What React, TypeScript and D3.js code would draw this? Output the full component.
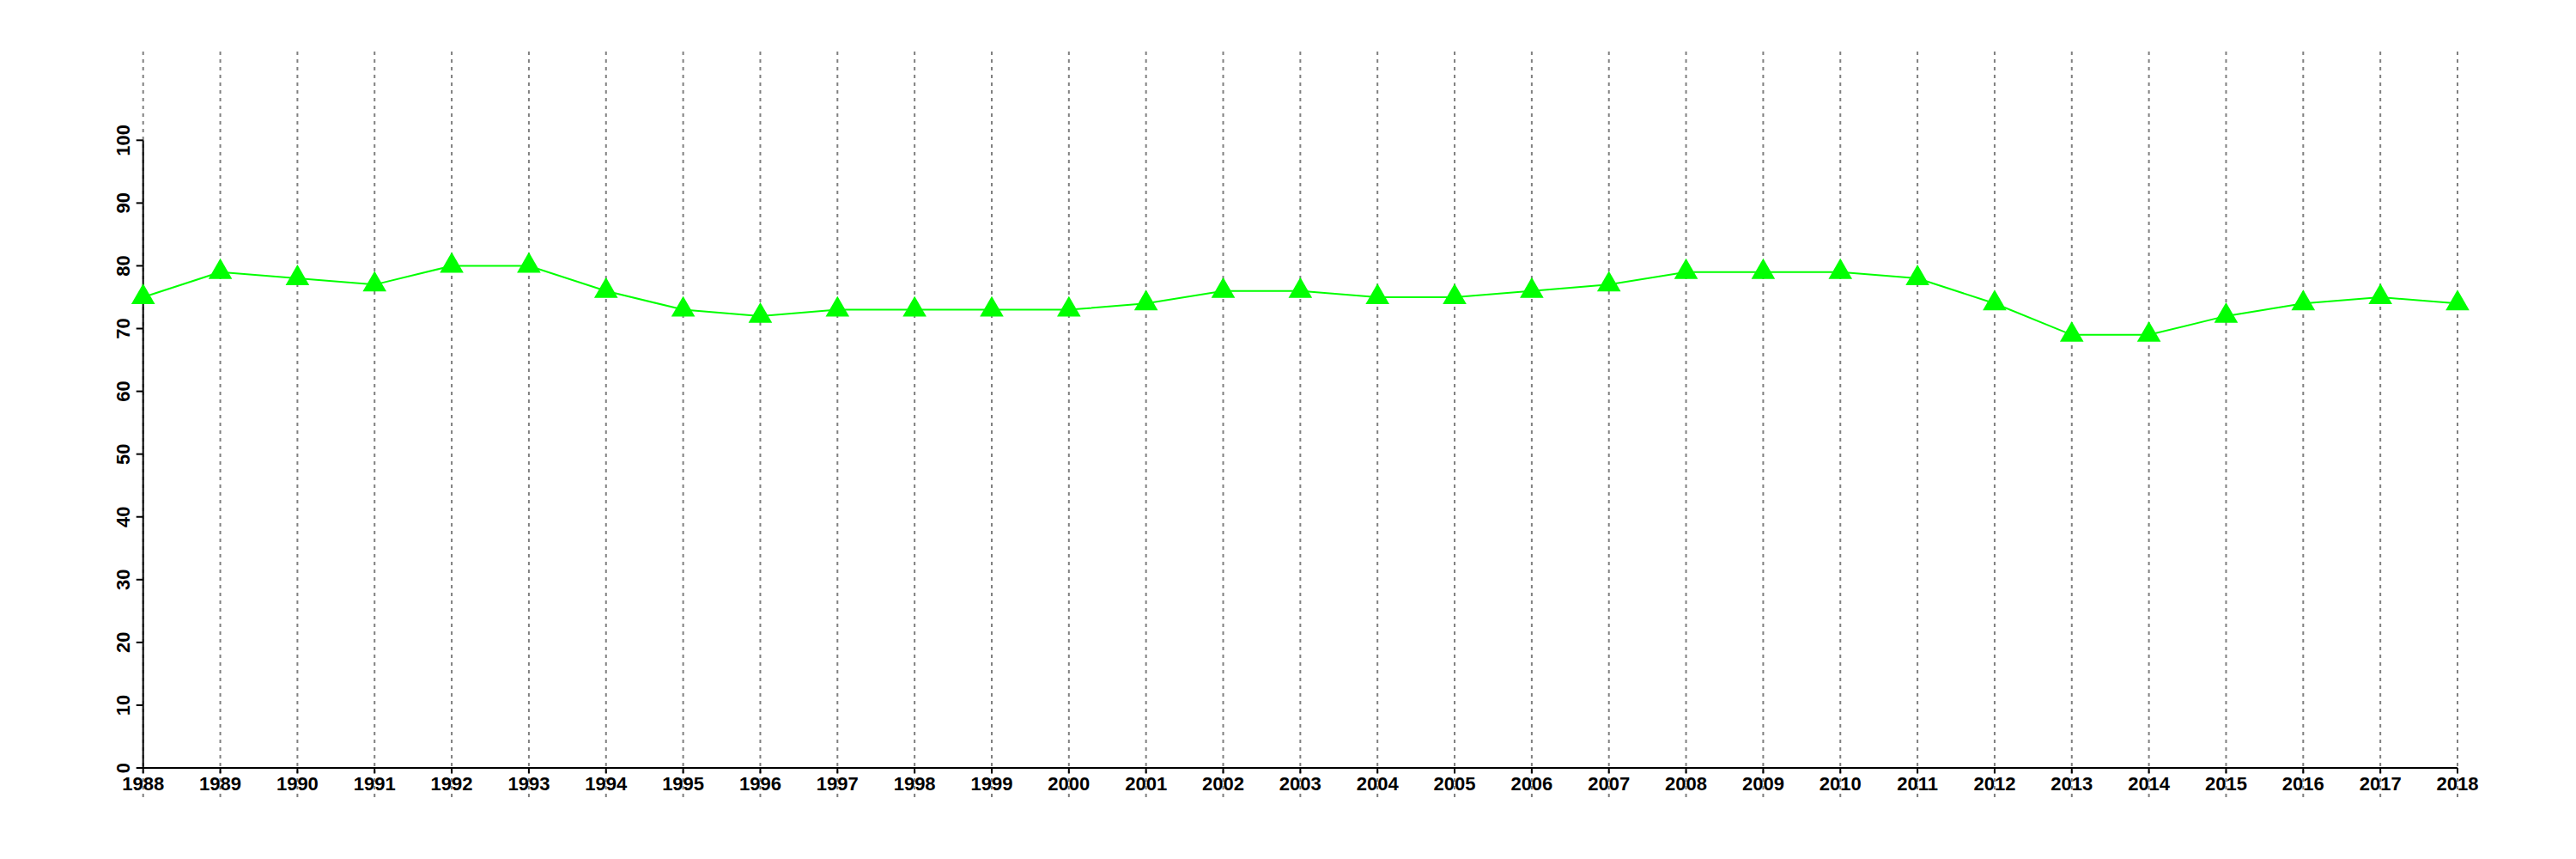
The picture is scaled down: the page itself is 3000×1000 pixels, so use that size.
import React from "react";
import * as d3 from "d3";

const years: number[] = [
  1988, 1989, 1990, 1991, 1992, 1993, 1994, 1995, 1996, 1997, 1998, 1999, 2000, 2001, 2002,
  2003, 2004, 2005, 2006, 2007, 2008, 2009, 2010, 2011, 2012, 2013, 2014, 2015, 2016, 2017, 2018,
];
const values: number[] = [
  75, 79, 78, 77, 80, 80, 76, 73, 72, 73, 73, 73, 73, 74, 76,
  76, 75, 75, 76, 77, 79, 79, 79, 78, 74, 69, 69, 72, 74, 75, 74,
];
const yTicks: number[] = [0, 10, 20, 30, 40, 50, 60, 70, 80, 90, 100];

const W = 3000;
const H = 1000;
const FONT = "'Liberation Sans', Arial, Helvetica, sans-serif";

export default function App() {
  const x = d3.scaleLinear().domain([1988, 2018]).range([166.7, 2862]);
  const y = d3.scaleLinear().domain([0, 100]).range([894, 163.3]);
  const line = d3
    .line<number>()
    .x((_, i) => x(years[i]))
    .y((d) => y(d));
  const tri = d3.symbol().type(d3.symbolTriangle).size(330)() as string;

  return (
    <svg
      width={W}
      height={H}
      style={{ position: "absolute", left: 0, top: 0, background: "#fff" }}
    >
      {/* vertical grid lines */}
      {years.map((yr) => (
        <line
          key={"g" + yr}
          x1={x(yr)}
          x2={x(yr)}
          y1={60}
          y2={928}
          stroke="#808080"
          strokeWidth={2}
          strokeDasharray="4,5"
        />
      ))}
      {/* y axis */}
      <line x1={x(1988)} x2={x(1988)} y1={y(100)} y2={y(0)} stroke="#000" strokeWidth={2} />
      {yTicks.map((t) => (
        <g key={"y" + t}>
          <line x1={x(1988) - 8} x2={x(1988)} y1={y(t)} y2={y(t)} stroke="#000" strokeWidth={2} />
          <text
            transform={`translate(151,${y(t)}) rotate(-90)`}
            textAnchor="middle"
            fontFamily={FONT}
            fontWeight="bold"
            fontSize={22}
            fill="#000"
          >
            {t}
          </text>
        </g>
      ))}
      {/* x axis */}
      <line x1={x(1988)} x2={x(2018)} y1={y(0)} y2={y(0)} stroke="#000" strokeWidth={2} />
      {years.map((yr) => (
        <g key={"x" + yr}>
          <line x1={x(yr)} x2={x(yr)} y1={y(0)} y2={y(0) + 6} stroke="#000" strokeWidth={2} />
          <text
            x={x(yr)}
            y={920}
            textAnchor="middle"
            fontFamily={FONT}
            fontWeight="bold"
            fontSize={22}
            fill="#000"
          >
            {yr}
          </text>
        </g>
      ))}
      {/* series */}
      <path d={line(values) || ""} fill="none" stroke="#00ff00" strokeWidth={2} />
      {values.map((v, i) => (
        <path
          key={"m" + i}
          d={tri}
          transform={`translate(${x(years[i])},${y(v)})`}
          fill="#00ff00"
        />
      ))}
    </svg>
  );
}
